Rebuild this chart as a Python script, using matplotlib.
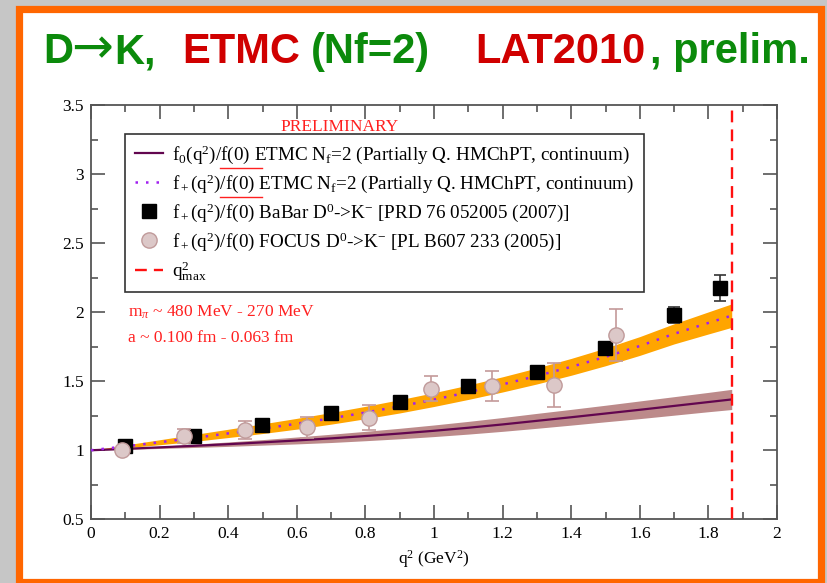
import numpy as np
import matplotlib
matplotlib.use("Agg")
from matplotlib import pyplot as plt
from matplotlib.patches import Rectangle
from matplotlib.lines import Line2D

plt.rcParams['font.family'] = ['Liberation Serif', 'DejaVu Serif']
plt.rcParams['mathtext.fontset'] = 'custom'
plt.rcParams['mathtext.rm'] = 'Liberation Serif'
plt.rcParams['mathtext.it'] = 'Liberation Serif:italic'

# lattice curves
q2_grid = [0.0, 0.1, 0.2, 0.3, 0.4, 0.5, 0.6, 0.7, 0.8, 0.9, 1.0,
           1.1, 1.2, 1.3, 1.4, 1.5, 1.6, 1.7, 1.8, 1.868]
fplus = [1.000, 1.028, 1.058, 1.089, 1.122, 1.156, 1.192, 1.231, 1.273, 1.318,
         1.367, 1.420, 1.477, 1.538, 1.604, 1.676, 1.755, 1.843, 1.922, 1.975]
fplus_err = [0.0, 0.01, 0.018, 0.025, 0.03, 0.035, 0.039, 0.042, 0.045, 0.048,
             0.05, 0.052, 0.055, 0.058, 0.061, 0.064, 0.068, 0.073, 0.08, 0.085]
fzero = [1.000, 1.010, 1.021, 1.032, 1.044, 1.057, 1.071, 1.086, 1.103, 1.121,
         1.141, 1.163, 1.187, 1.213, 1.239, 1.266, 1.293, 1.321, 1.349, 1.368]
fzero_err = [0.0, 0.004, 0.008, 0.012, 0.016, 0.02, 0.025, 0.03, 0.034, 0.038,
             0.042, 0.046, 0.05, 0.054, 0.057, 0.06, 0.064, 0.067, 0.07, 0.073]

# experiments
babar_q2 = [0.1, 0.3, 0.5, 0.7, 0.9, 1.1, 1.3, 1.5, 1.7, 1.835]
babar_f = [1.03, 1.105, 1.185, 1.27, 1.352, 1.465, 1.568, 1.74, 1.98, 2.175]
babar_err = [0.01, 0.015, 0.015, 0.02, 0.02, 0.025, 0.03, 0.035, 0.06, 0.095]

focus_q2 = [0.09, 0.27, 0.45, 0.63, 0.81, 0.99, 1.17, 1.35, 1.53]
focus_f = [1.0, 1.105, 1.145, 1.165, 1.237, 1.446, 1.465, 1.475, 1.835]
focus_err = [0.015, 0.05, 0.065, 0.075, 0.09, 0.09, 0.11, 0.16, 0.19]

q2_max = 1.868

xticks = [0, 0.2, 0.4, 0.6, 0.8, 1, 1.2, 1.4, 1.6, 1.8, 2]
xticklabels = ['0', '0.2', '0.4', '0.6', '0.8', '1', '1.2', '1.4', '1.6', '1.8', '2']
yticks = [0.5, 1, 1.5, 2, 2.5, 3, 3.5]
yticklabels = ['0.5', '1', '1.5', '2', '2.5', '3', '3.5']

labels = [r'f$_0$(q$^2$)/f(0) ETMC N$_\mathrm{f}$=2 (Partially Q. HMChPT, continuum)',
          r'f$_+$(q$^2$)/f(0) ETMC N$_\mathrm{f}$=2 (Partially Q. HMChPT, continuum)',
          r'f$_+$(q$^2$)/f(0) BaBar D$^0$->K$^\mathrm{-}$ [PRD 76 052005 (2007)]',
          r'f$_+$(q$^2$)/f(0) FOCUS D$^0$->K$^\mathrm{-}$ [PL B607 233 (2005)]',
          r'q$^2_\mathrm{max}$']

W, H = 828, 583
fig = plt.figure(figsize=(W / 100, H / 100), dpi=100)
fig.patch.set_facecolor('#c6c6c6')

# slide frame
fig.add_artist(Rectangle((19.5 / W, (H - 582) / H), (821 - 19.5) / W, (582 - 8.5) / H,
                         transform=fig.transFigure, facecolor='white',
                         edgecolor='#ff6600', linewidth=5.2, zorder=0))

# title, one piece per colour
green, red = '#0b8a0b', '#d00000'
title_parts = [(43, 'D', green, 'Liberation Sans', 'bold', 30),
               (71, '\u2192', green, 'DejaVu Sans', 'normal', 36),
               (114, 'K,', green, 'Liberation Sans', 'bold', 30),
               (182, 'ETMC', red, 'Liberation Sans', 'bold', 30),
               (311, '(Nf=2)', green, 'Liberation Sans', 'bold', 30),
               (475, 'LAT2010', red, 'Liberation Sans', 'bold', 30),
               (650, ', prelim.', green, 'Liberation Sans', 'bold', 30)]
for px, s, c, fam, fw, fs in title_parts:
    fig.text(px / W, (H - 63) / H, s, color=c, fontsize=fs, fontweight=fw,
             family=fam, ha='left', va='baseline')

ax = fig.add_axes([91 / W, (H - 519.3) / H, 686 / W, 414.3 / H])

ax.fill_between(q2_grid, np.array(fzero) - np.array(fzero_err),
                np.array(fzero) + np.array(fzero_err), color='#bc8a8a', lw=0, zorder=1)
ax.fill_between(q2_grid, np.array(fplus) - np.array(fplus_err),
                np.array(fplus) + np.array(fplus_err), color='#ffa500', lw=0, zorder=1)
h0, = ax.plot(q2_grid, fzero, color='#62064f', lw=1.6, zorder=2)
h1, = ax.plot(q2_grid, fplus, color='#a020f0', lw=1.8, ls=(0, (1, 3.2)), zorder=3)

ax.errorbar(babar_q2, babar_f, yerr=babar_err, fmt='s', color='black', ms=9.5,
            ecolor='#333333', elinewidth=1.2, capsize=4.5, capthick=1.2, zorder=4)
ax.errorbar(focus_q2, focus_f, yerr=focus_err, fmt='o', mfc='#dcc8c8', mec='#c09a9a',
            ms=11, ecolor='#c49a9a', elinewidth=1.2, capsize=5, capthick=1.2, zorder=5)
h4 = ax.axvline(q2_max, color='#ff1010', lw=1.7, ls=(0, (5, 3)), zorder=6)

h2 = Line2D([], [], ls='none', marker='s', color='black', ms=9.5)
h3 = Line2D([], [], ls='none', marker='o', mfc='#dcc8c8', mec='#c09a9a', ms=11)

ax.set_xlim(0, 2)
ax.set_ylim(0.5, 3.5)
ax.set_xticks(xticks)
ax.set_xticklabels(xticklabels)
ax.set_yticks(yticks)
ax.set_yticklabels(yticklabels)
ax.set_xticks(np.arange(0.1, 2.0, 0.2), minor=True)
ax.set_yticks(np.arange(0.75, 3.5, 0.5), minor=True)
ax.tick_params(which='both', direction='in', top=True, right=True, color='#555555',
               width=1.2, labelsize=12.5, pad=5)
ax.tick_params(which='major', length=10)
ax.tick_params(which='minor', length=5)
for sp in ax.spines.values():
    sp.set_color('#555555')
    sp.set_linewidth(1.3)
ax.set_xlabel(r'q$^2$ (GeV$^2$)', fontsize=12.5, labelpad=4)

leg = ax.legend([h0, h1, h2, h3, h4], labels, loc='upper left',
                bbox_to_anchor=(0.0496, 0.930), fontsize=13.8,
                frameon=True, fancybox=False, edgecolor='#333333', framealpha=1,
                handlelength=1.5, handletextpad=0.45, labelspacing=0.33,
                borderpad=0.5, borderaxespad=0, numpoints=1)
leg.get_frame().set_linewidth(1.2)

ax.text(0.363, 0.947, 'PRELIMINARY', transform=ax.transAxes, color='#ff2020',
        fontsize=12.5, ha='center', va='center')
ax.text(0.054, 0.50, r'm$_\pi$ ~ 480 MeV - 270 MeV', transform=ax.transAxes,
        color='#ff2020', fontsize=12.5, ha='left', va='center')
ax.text(0.054, 0.437, 'a ~ 0.100 fm - 0.063 fm', transform=ax.transAxes,
        color='#ff2020', fontsize=12.5, ha='left', va='center')

# red underlines below f(0) in the first two legend rows
for yy in (168, 197):
    fig.add_artist(Line2D([220 / W, 262 / W], [(H - yy) / H] * 2,
                          transform=fig.transFigure, color='#ff2020', lw=1.0))

fig.savefig('out.png', dpi=100, facecolor=fig.get_facecolor())
